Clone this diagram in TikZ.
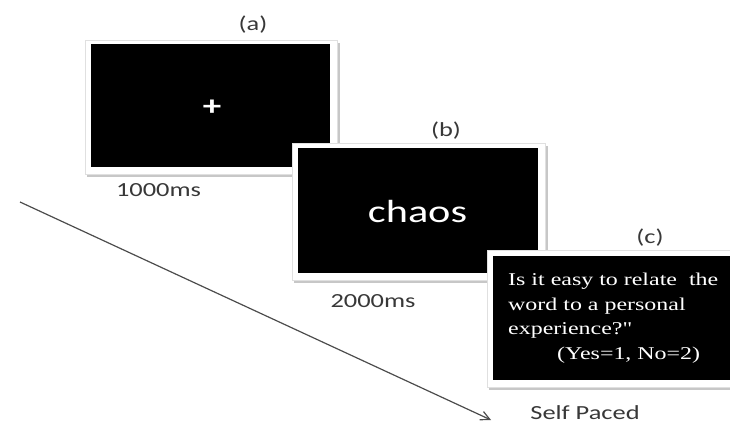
\documentclass[tikz,border=0pt]{standalone}
\usepackage{fontspec}
\setmainfont{Carlito}
\newfontfamily\wsans[FakeStretch=1.32]{Carlito}
\newfontfamily\wserif[FakeStretch=1.33]{Liberation Serif}
\usetikzlibrary{arrows.meta}
\tikzset{
  frame/.style={fill=white,draw=black!12,line width=0.8pt},
  shade/.style={fill=black!22,draw=none},
  screen/.style={fill=black,draw=none},
  lbl/.style={text=black!78,font=\wsans\fontsize{20}{22}\selectfont,inner sep=0pt},
  qline/.style={text=white,font=\wserif\fontsize{18}{25}\selectfont,inner sep=0pt,anchor=base west},
  timearrow/.style={draw=black!70,line width=1.2pt,-{Straight Barb[length=9pt,width=9pt]}}
}
\begin{document}
\begin{tikzpicture}[x=1pt,y=-1pt]
\useasboundingbox (0,0) rectangle (730,425);
% screen a
\fill[shade] (87,43) rectangle (340,177);
\path[frame] (85,40) rectangle (337,174);
\path[screen] (91,44) rectangle (330,167);
\node[text=white,font=\wsans\fontsize{28}{28}\selectfont\bfseries,inner sep=0pt] (plus) at (212,108) {+};
\node[lbl] (la) at (253,25) {(a)};
\node[lbl] (ta) at (158.5,190) {1000ms};
% screen b
\fill[shade] (294,146) rectangle (548,283);
\path[frame] (292,143) rectangle (545,280);
\path[screen] (298,148) rectangle (538,273);
\node[text=white,font=\wsans\fontsize{32}{32}\selectfont,inner sep=0pt,anchor=base] (word) at (417.5,222) {chaos};
\node[lbl] (lb) at (446,131) {(b)};
\node[lbl] (tb) at (373,301) {2000ms};
% screen c
\fill[shade] (489,253) rectangle (735,390);
\path[frame] (487,250) rectangle (735,387);
\path[screen] (493,256) rectangle (735,380);
\node[qline] (q1) at (508,285) {Is it easy to relate\ \ the};
\node[qline] (q2) at (508,310) {word to a personal};
\node[qline] (q3) at (508,334) {experience?"};
\node[qline] (q4) at (557,359) {(Yes=1, No=2)};
\node[lbl] (lc) at (650,238) {(c)};
\node[lbl] (tc) at (585,413) {Self Paced};
% time arrow
\coordinate (s) at (20,202);
\coordinate (e) at (491,420);
\draw[timearrow] (s) -- (e);
\end{tikzpicture}
\end{document}
